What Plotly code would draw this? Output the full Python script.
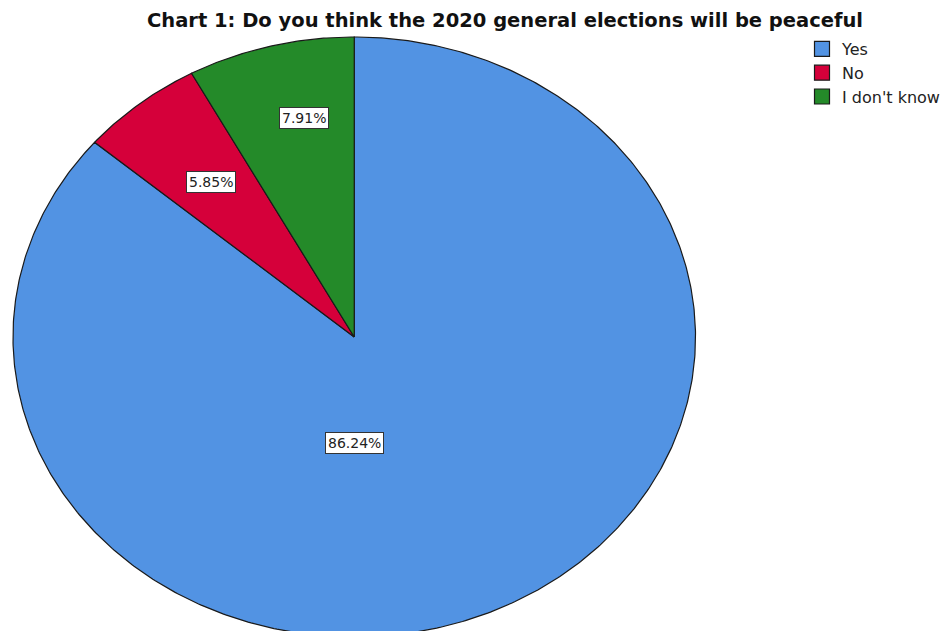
import numpy as np
import plotly.graph_objects as go

# ---- data ----
categories = ["Yes", "No", "I don't know"]
percentages = [86.24, 5.85, 7.91]
label_texts = ["86.24%", "5.85%", "7.91%"]

# ---- style ----
colors = ["#5293E3", "#D5003A", "#248A29"]
W, H = 945, 631
cx, cy = 355, 337          # centre in pixels (from top-left)
rx, ry = 342, 300          # ellipse radii in pixels
# label placement: (angle from top clockwise in degrees, radius fraction)
label_place = [(180.0, 0.353), (321.0, 0.665), (348.5, 0.745)]
FONT = "DejaVu Sans, Arial"

fig = go.Figure()

total = sum(percentages)
start = 0.0
for name, val, col in zip(categories, percentages, colors):
    frac = val / total
    end = start + frac * 2 * np.pi
    n = max(int(frac * 720), 8)
    t = np.linspace(start, end, n)
    xs = np.concatenate([[0], rx * np.sin(t), [0]])
    ys = np.concatenate([[0], ry * np.cos(t), [0]])
    fig.add_trace(go.Scatter(
        x=xs, y=ys, mode="lines", fill="toself", fillcolor=col,
        line=dict(color="#1a1a1a", width=1.2), name=name, hoverinfo="name",
        showlegend=False, legendgroup=name,
    ))
    # legend entry (square swatch)
    fig.add_trace(go.Scatter(
        x=[None], y=[None], mode="markers", name=name, legendgroup=name,
        marker=dict(symbol="square", size=15, color=col,
                    line=dict(color="#1a1a1a", width=1.2)),
    ))
    start = end

for txt, (ang, rf) in zip(label_texts, label_place):
    a = np.deg2rad(ang)
    fig.add_annotation(
        x=rx * rf * np.sin(a), y=ry * rf * np.cos(a), text=txt, showarrow=False,
        font=dict(family=FONT, size=14, color="#222"),
        bgcolor="white", bordercolor="#333", borderwidth=1, borderpad=2,
    )

fig.update_layout(
    width=W, height=H,
    margin=dict(l=0, r=0, t=0, b=0),
    paper_bgcolor="white", plot_bgcolor="white",
    xaxis=dict(range=[-cx, W - cx], visible=False, fixedrange=True),
    yaxis=dict(range=[cy - H, cy], visible=False, fixedrange=True),
    showlegend=True,
    legend=dict(
        x=804 / W, y=1 - 32 / H, xanchor="left", yanchor="top",
        font=dict(family=FONT, size=16, color="#222"),
        bgcolor="rgba(0,0,0,0)", itemwidth=30, tracegroupgap=0,
    ),
    title=dict(
        text="<b>Chart 1: Do you think the 2020 general elections will be peaceful</b>",
        x=505 / W, xanchor="center", y=1 - 20 / H, yanchor="middle",
        font=dict(family=FONT, size=19.5, color="#111"),
    ),
)

fig.write_html("out.html")
